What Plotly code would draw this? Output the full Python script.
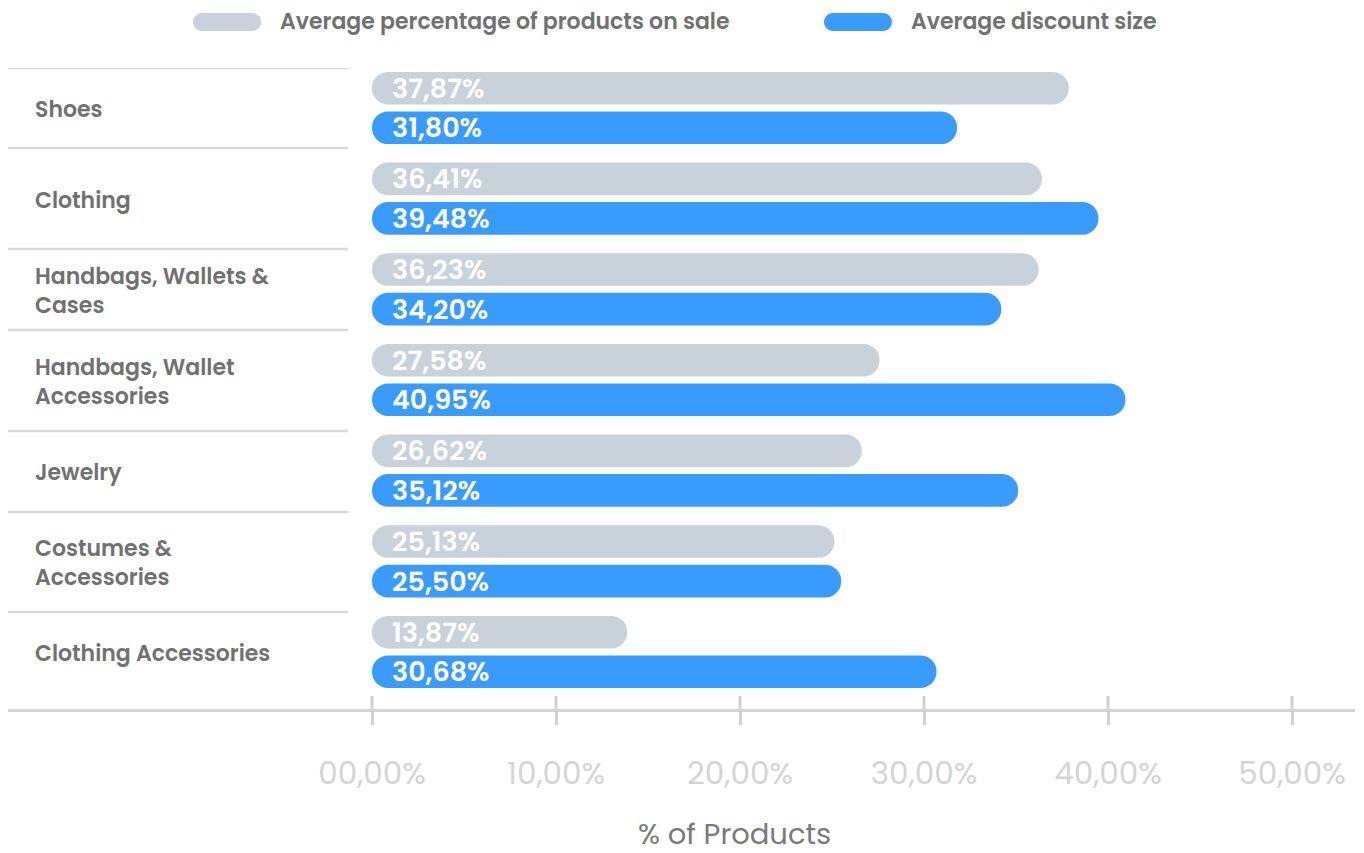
import plotly.graph_objects as go

# Categories (top to bottom) and the two measured series, in percent
categories = [
    "Shoes",
    "Clothing",
    "Handbags, Wallets &<br>Cases",
    "Handbags, Wallet<br>Accessories",
    "Jewelry",
    "Costumes &<br>Accessories",
    "Clothing Accessories",
]
on_sale_pct = [37.87, 36.41, 36.23, 27.58, 26.62, 25.13, 13.87]
discount_pct = [31.80, 39.48, 34.20, 40.95, 35.12, 25.50, 30.68]

series_names = ["Average percentage of products on sale", "Average discount size"]
tick_values = [0, 10, 20, 30, 40, 50]
tick_labels = ["00,00%", "10,00%", "20,00%", "30,00%", "40,00%", "50,00%"]
axis_title = "% of Products"

GREY = "#c9d1db"
BLUE = "#3a9bfe"
FONT = "Poppins, Inter, sans-serif"

W, H = 1364, 853
ML, MR, MT, MB = 8, 9, 68, 144
PW, PH = W - ML - MR, H - MT - MB


def px_x(x):
    return (x - ML) / PW


def px_y(y):
    return (H - MB - y) / PH


def fmt(v):
    return f"{v:.2f}".replace(".", ",") + "%"


idx = list(range(len(categories)))
BAR_W = 0.36
GAP = 0.218

fig = go.Figure()
# Bars run from the value back to zero so the rounded tip sits at the axis origin
for vals, color, off, name in [
    (on_sale_pct, GREY, -GAP - BAR_W / 2, series_names[0]),
    (discount_pct, BLUE, GAP - BAR_W / 2, series_names[1]),
]:
    fig.add_trace(go.Bar(
        y=idx, x=[-v for v in vals], base=vals, orientation="h",
        width=BAR_W, offset=off, name=name,
        marker=dict(color=color, cornerradius="50%", line=dict(width=0)),
        showlegend=False, hoverinfo="skip",
    ))
    for i, v in enumerate(vals):
        fig.add_annotation(
            x=0, y=i + off + BAR_W / 2, xref="x", yref="y", yshift=0,
            text=fmt(v), showarrow=False, xanchor="left", xshift=18,
            font=dict(family=FONT, size=27, color="white", weight=600),
        )

# Category labels on the left
for i, c in enumerate(categories):
    fig.add_annotation(
        x=px_x(33), y=i, xref="paper", yref="y", yshift=-2, text=c, showarrow=False,
        xanchor="left", align="left",
        font=dict(family=FONT, size=22, color="#717171", weight=600),
    )

# Row separators in the label column
row_lines = [-0.441, 0.441, 1.555, 2.448, 3.562, 4.456, 5.559]
for yv in row_lines:
    fig.add_shape(type="line", xref="paper", yref="y", x0=0, x1=px_x(348),
                  y0=yv, y1=yv, line=dict(color="#d9d9d9", width=2.5))

# Tick marks crossing the axis line
for t in tick_values:
    fig.add_shape(type="line", xref="x", yref="paper", x0=t, x1=t,
                  y0=0, y1=13 / PH, line=dict(color="#d0d0d0", width=3))


def pill(x0, x1, y0, y1, color):
    r = (y1 - y0) / 2
    k = 0.5523 * r
    pts = [
        f"M{px_x(x0 + r)},{px_y(y0)}",
        f"L{px_x(x1 - r)},{px_y(y0)}",
        f"C{px_x(x1 - r + k)},{px_y(y0)} {px_x(x1)},{px_y(y0 + r - k)} {px_x(x1)},{px_y(y0 + r)}",
        f"C{px_x(x1)},{px_y(y0 + r + k)} {px_x(x1 - r + k)},{px_y(y1)} {px_x(x1 - r)},{px_y(y1)}",
        f"L{px_x(x0 + r)},{px_y(y1)}",
        f"C{px_x(x0 + r - k)},{px_y(y1)} {px_x(x0)},{px_y(y0 + r + k)} {px_x(x0)},{px_y(y0 + r)}",
        f"C{px_x(x0)},{px_y(y0 + r - k)} {px_x(x0 + r - k)},{px_y(y0)} {px_x(x0 + r)},{px_y(y0)}",
        "Z",
    ]
    fig.add_shape(type="path", xref="paper", yref="paper", path=" ".join(pts),
                  fillcolor=color, line=dict(width=0), layer="above")


# Legend
for (x0, x1, tx), color, name in zip([(193, 261, 278), (824, 892, 909)], [GREY, BLUE], series_names):
    pill(x0, x1, 13, 31, color)
    fig.add_annotation(x=px_x(tx), y=px_y(21), xref="paper", yref="paper", text=name,
                       showarrow=False, xanchor="left", yanchor="middle",
                       font=dict(family=FONT, size=22, color="#717171", weight=600))

# Axis title
fig.add_annotation(x=px_x(734), y=px_y(834), xref="paper", yref="paper", text=axis_title,
                   showarrow=False, xanchor="center", yanchor="middle",
                   font=dict(family=FONT, size=29, color="#7a7a7a"))

x0_px, x50_px = 372, 1292
upp = 50 / (x50_px - x0_px)
fig.update_layout(
    width=W, height=H,
    margin=dict(l=ML, r=MR, t=MT, b=MB),
    paper_bgcolor="white", plot_bgcolor="white",
    barmode="overlay",
    xaxis=dict(
        range=[(ML - x0_px) * upp, (W - MR - x0_px) * upp],
        tickvals=tick_values, ticktext=tick_labels,
        ticks="outside", ticklen=13, tickwidth=3, tickcolor="#d0d0d0",
        showline=True, linecolor="#d4d4d4", linewidth=2.5,
        showgrid=False, zeroline=False, ticklabelstandoff=22,
        tickfont=dict(family=FONT, size=31, color="#d4d4d4"),
        fixedrange=True,
    ),
    yaxis=dict(
        range=[6.629, -0.441], showticklabels=False, showgrid=False,
        zeroline=False, showline=False, ticks="", fixedrange=True,
    ),
    showlegend=False,
)

fig.write_html("out.html")
